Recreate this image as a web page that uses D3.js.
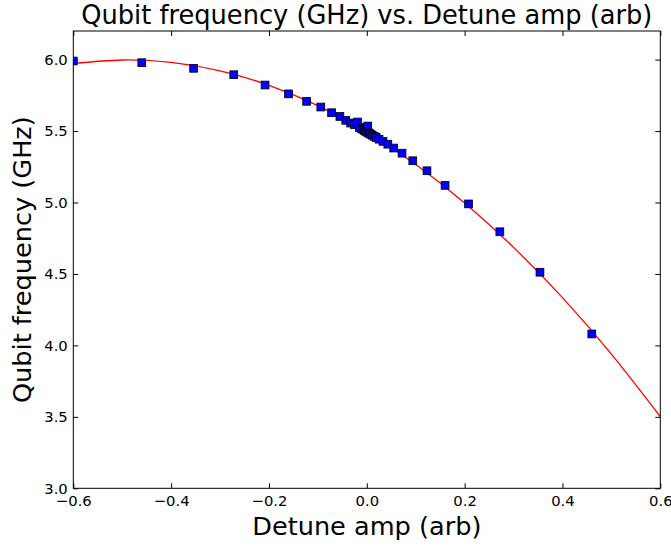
<!DOCTYPE html>
<html>
<head>
<meta charset="utf-8">
<script src="https://cdn.jsdelivr.net/npm/d3@7"></script>
<style>
  body { margin: 0; background: #fff; }
  text { font-family: "DejaVu Sans", sans-serif; fill: #000; }
</style>
</head>
<body>
<svg id="chart"></svg>
<script>
// measured points (detune amp, qubit freq in GHz)
var detuneAmps = [-0.600, -0.460, -0.354, -0.272, -0.208, -0.160, -0.123, -0.094, -0.072, -0.055,
  -0.043, -0.033, -0.025, -0.019, -0.015, -0.011, -0.008, -0.005, -0.003, 0.000,
  0.002, 0.003, 0.005, 0.008, 0.011, 0.015, 0.019, 0.025, 0.033, 0.043,
  0.055, 0.072, 0.094, 0.123, 0.160, 0.208, 0.272, 0.354, 0.460];
var qubitFreqs = [5.990, 5.978, 5.939, 5.894, 5.822, 5.760, 5.708, 5.668, 5.628, 5.602,
  5.575, 5.556, 5.544, 5.563, 5.525, 5.518, 5.512, 5.505, 5.500, 5.493,
  5.535, 5.488, 5.484, 5.478, 5.471, 5.463, 5.455, 5.443, 5.428, 5.408,
  5.381, 5.345, 5.292, 5.222, 5.120, 4.990, 4.795, 4.512, 4.080];

// fitted curve
var fitAmps = [-0.6, -0.5, -0.4, -0.3, -0.2, -0.1, 0.0, 0.1, 0.2, 0.3, 0.4, 0.5, 0.6];
var fitFreqs = [5.972, 5.997, 5.980, 5.921, 5.820, 5.678, 5.493, 5.266, 4.997, 4.686, 4.334, 3.939, 3.502];

var xTicks = [-0.6, -0.4, -0.2, 0.0, 0.2, 0.4, 0.6];
var yTicks = [3.0, 3.5, 4.0, 4.5, 5.0, 5.5, 6.0];

var width = 671,
    height = 546;
var margin = {top: 31, right: 10.7, bottom: 57.7, left: 73.3};
var plotW = width - margin.left - margin.right,
    plotH = height - margin.top - margin.bottom;

var svg = d3.select("#chart")
  .attr("width", width)
  .attr("height", height);

var x = d3.scaleLinear().domain([-0.6, 0.6]).range([0, plotW]);
var y = d3.scaleLinear().domain([3.0, 6.2]).range([plotH, 0]);

svg.append("defs").append("clipPath")
  .attr("id", "plotClip")
.append("rect")
  .attr("width", plotW)
  .attr("height", plotH);

var g = svg.append("g")
  .attr("transform", "translate(" + margin.left + "," + margin.top + ")");

var fmt = d3.format(".1f");

// ticks point inward on all four sides
g.append("g")
  .attr("transform", "translate(0," + plotH + ")")
  .call(d3.axisBottom(x).tickValues(xTicks).tickSizeInner(-5).tickSizeOuter(0).tickPadding(7).tickFormat(fmt));
g.append("g")
  .call(d3.axisTop(x).tickValues(xTicks).tickSizeInner(-5).tickSizeOuter(0).tickFormat(""));
g.append("g")
  .call(d3.axisLeft(y).tickValues(yTicks).tickSizeInner(-5).tickSizeOuter(0).tickPadding(5.5).tickFormat(fmt));
g.append("g")
  .attr("transform", "translate(" + plotW + ",0)")
  .call(d3.axisRight(y).tickValues(yTicks).tickSizeInner(-5).tickSizeOuter(0).tickFormat(""));

g.selectAll(".domain").remove();
g.selectAll(".tick line").attr("stroke", "#000").attr("stroke-width", 1);
g.selectAll(".tick text")
  .style("font-size", "14.8px")
  .style("font-family", "'DejaVu Sans', sans-serif")
  .attr("fill", "#000");

var plot = g.append("g").attr("clip-path", "url(#plotClip)");

var fitLine = d3.line()
  .x(function(d) { return x(d[0]); })
  .y(function(d) { return y(d[1]); })
  .curve(d3.curveNatural);

plot.append("path")
  .datum(d3.zip(fitAmps, fitFreqs))
  .attr("d", fitLine)
  .attr("fill", "none")
  .attr("stroke", "#ff0000")
  .attr("stroke-width", 1.3);

var side = 7.8;
plot.selectAll("rect.pt")
  .data(d3.zip(detuneAmps, qubitFreqs))
.enter().append("rect")
  .attr("class", "pt")
  .attr("x", function(d) { return x(d[0]) - side / 2; })
  .attr("y", function(d) { return y(d[1]) - side / 2; })
  .attr("width", side)
  .attr("height", side)
  .attr("fill", "#0000ff")
  .attr("stroke", "#000")
  .attr("stroke-width", 0.8);

// frame
g.append("rect")
  .attr("width", plotW)
  .attr("height", plotH)
  .attr("fill", "none")
  .attr("stroke", "#000")
  .attr("stroke-width", 1);

svg.append("text")
  .attr("x", margin.left + plotW / 2)
  .attr("y", 24)
  .attr("text-anchor", "middle")
  .style("font-size", "25.7px")
  .text("Qubit frequency (GHz) vs. Detune amp (arb)");

svg.append("text")
  .attr("x", margin.left + plotW / 2)
  .attr("y", 535)
  .attr("text-anchor", "middle")
  .style("font-size", "25.6px")
  .text("Detune amp (arb)");

svg.append("text")
  .attr("transform", "translate(31," + (margin.top + plotH / 2) + ") rotate(-90)")
  .attr("text-anchor", "middle")
  .style("font-size", "25.6px")
  .text("Qubit frequency (GHz)");
</script>
</body>
</html>
